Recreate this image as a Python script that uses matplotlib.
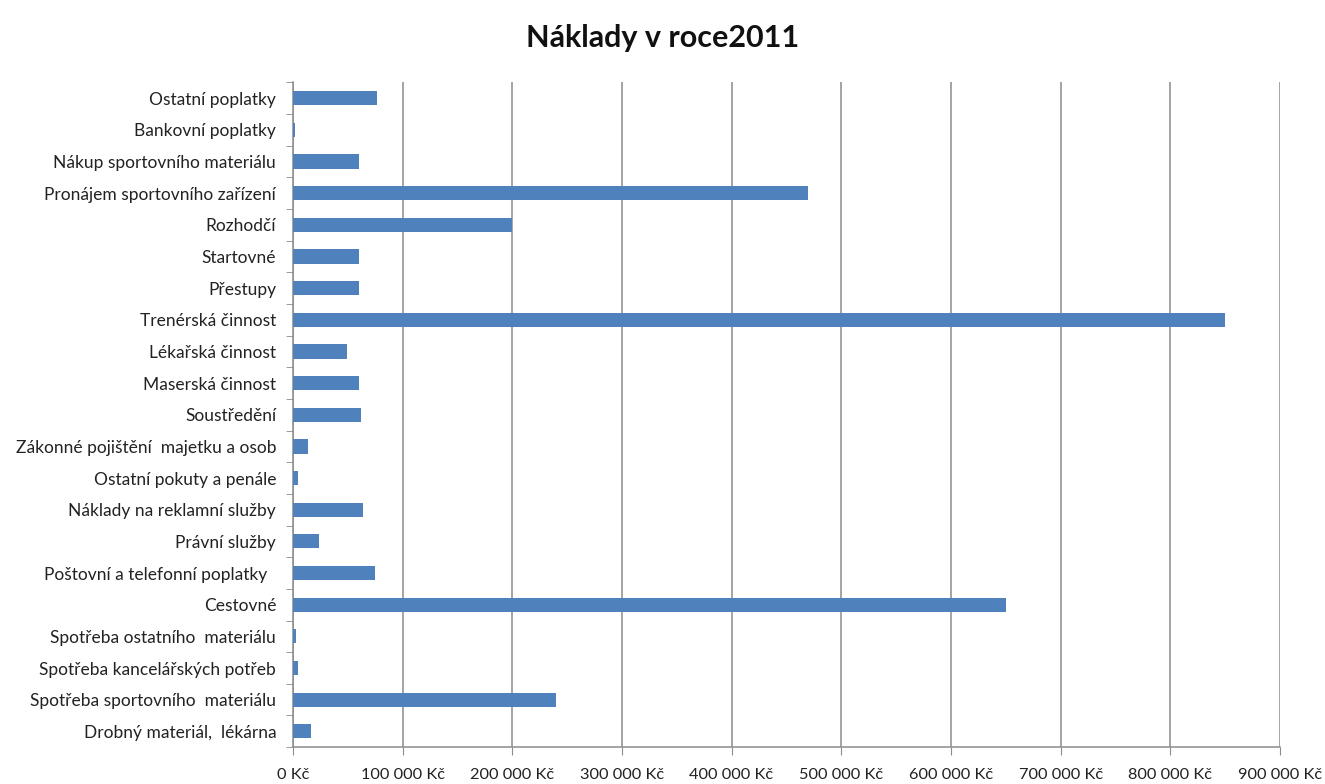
import numpy as np
import matplotlib.pyplot as plt
from matplotlib.ticker import FuncFormatter, FixedLocator

plt.rcParams['font.family'] = ['Lato', 'DejaVu Sans']

# categories from bottom to top
categories = [
    'Drobný materiál,  lékárna',
    'Spotřeba sportovního  materiálu',
    'Spotřeba kancelářských potřeb',
    'Spotřeba ostatního  materiálu',
    'Cestovné',
    'Poštovní a telefonní poplatky  ',
    'Právní služby',
    'Náklady na reklamní služby',
    'Ostatní pokuty a penále',
    'Zákonné pojištění  majetku a osob',
    'Soustředění',
    'Maserská činnost',
    'Lékařská činnost',
    'Trenérská činnost',
    'Přestupy',
    'Startovné',
    'Rozhodčí',
    'Pronájem sportovního zařízení',
    'Nákup sportovního materiálu',
    'Bankovní poplatky',
    'Ostatní poplatky',
]
values = [17000, 240000, 5000, 3000, 650000, 75000, 24000, 64000, 5000, 14000,
          62000, 60000, 49000, 850000, 60000, 60000, 200000, 470000, 60000,
          2000, 77000]
x_ticks = [0, 100000, 200000, 300000, 400000, 500000, 600000, 700000,
           800000, 900000]


def kc(v, pos=None):
    if v == 0:
        return '0 Kč'
    return f'{int(v):,} Kč'.replace(',', ' ')


fig = plt.figure(figsize=(13.25, 7.84), dpi=100)
ax = fig.add_axes([0.221, 0.047, 0.745, 0.848])

y = np.arange(len(categories))
ax.barh(y, values, height=0.45, color='#4F81BD', zorder=3)

ax.set_xlim(0, 900000)
ax.set_ylim(-0.5, len(categories) - 0.5)
ax.xaxis.set_major_locator(FixedLocator(x_ticks))
ax.xaxis.set_major_formatter(FuncFormatter(kc))
ax.grid(axis='x', color='#8c8c8c', linewidth=1.1, zorder=0)

ax.set_yticks(y)
ax.set_yticklabels(categories)
ax.set_yticks(np.arange(-0.5, len(categories), 1), minor=True)
ax.tick_params(axis='y', which='major', length=0, pad=12, labelsize=12.5,
               colors='#222222')
ax.tick_params(axis='y', which='minor', length=5, color='#8c8c8c',
               direction='out')
ax.tick_params(axis='x', which='major', length=6, pad=9, labelsize=11.8,
               color='#8c8c8c', labelcolor='#222222', direction='out')

for s in ['top', 'right']:
    ax.spines[s].set_visible(False)
for s in ['left', 'bottom']:
    ax.spines[s].set_color('#8c8c8c')
    ax.spines[s].set_linewidth(1.1)

fig.suptitle('Náklady v roce2011', x=0.5, y=0.97, fontsize=22,
             fontweight='bold', color='#111111')

fig.savefig('out.png', dpi=100)
